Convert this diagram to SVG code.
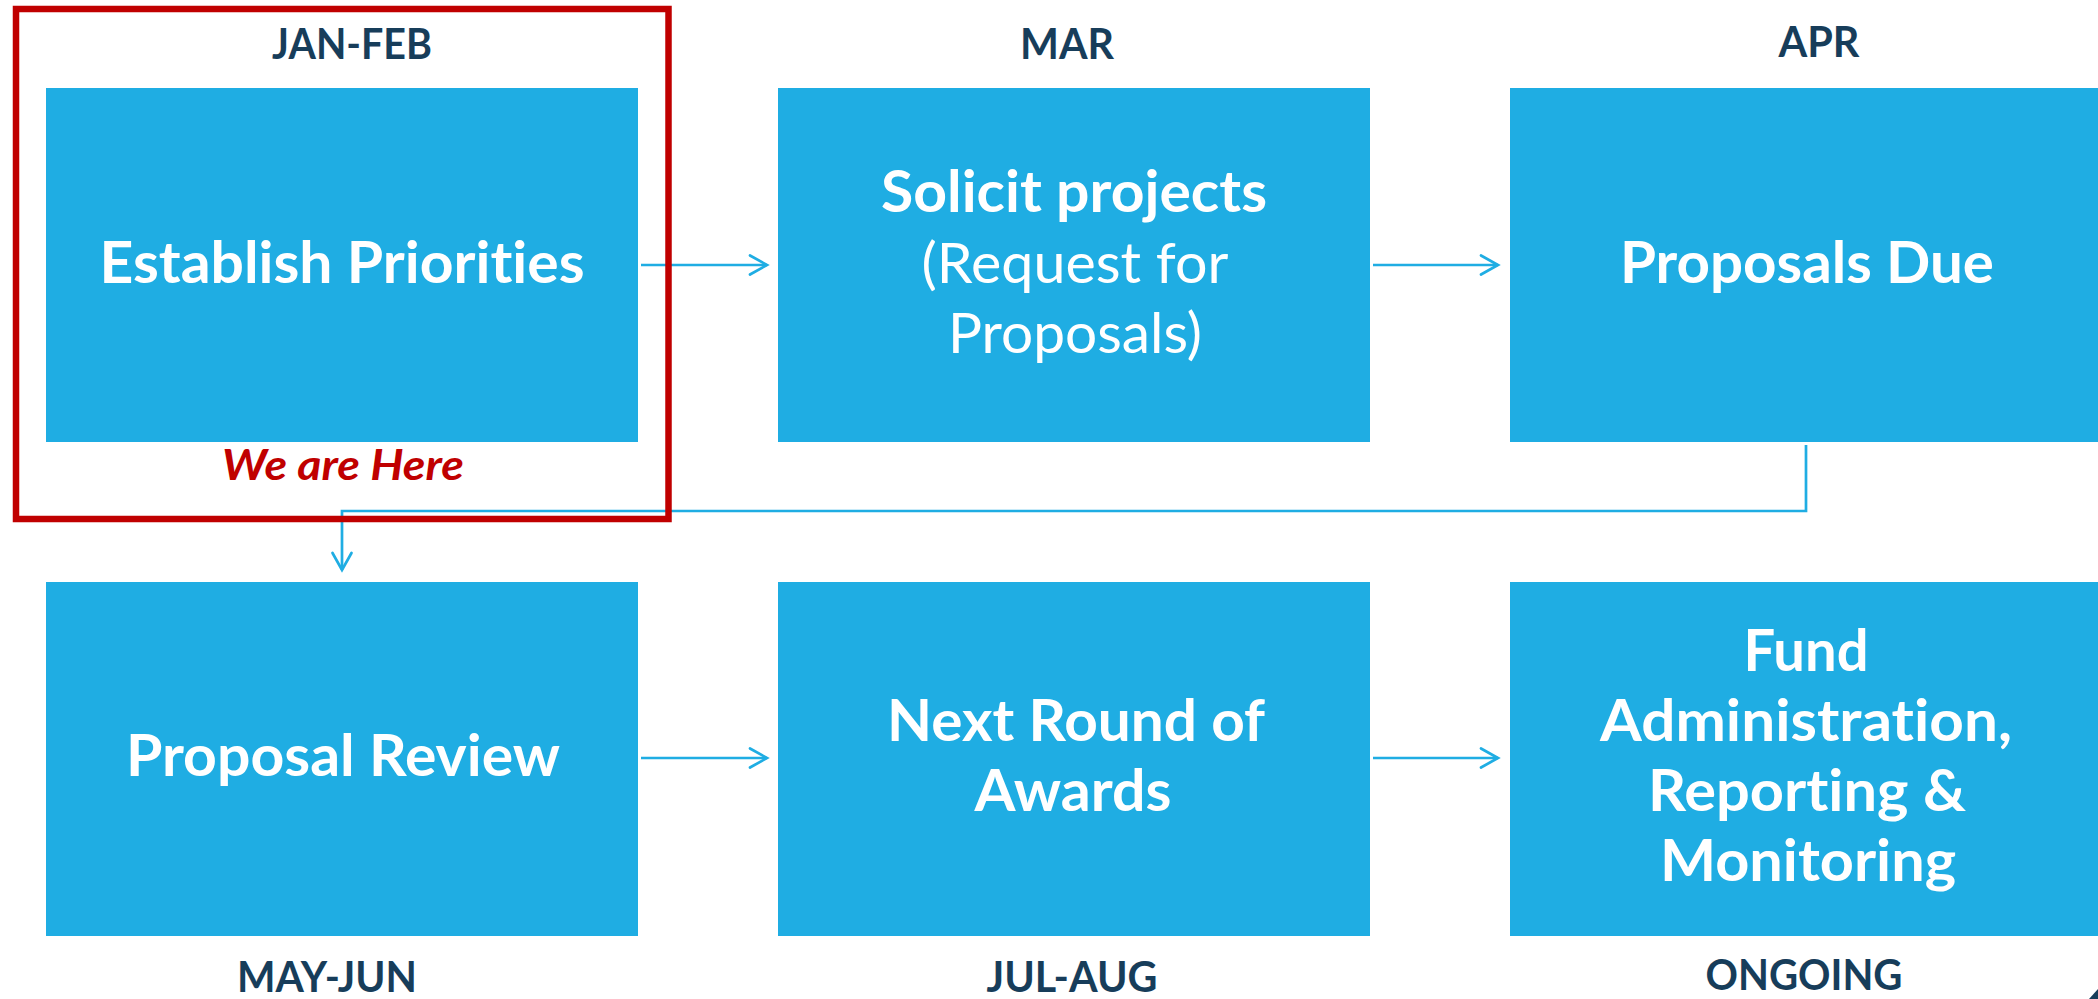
<svg xmlns="http://www.w3.org/2000/svg" width="2098" height="999" viewBox="0 0 2098 999">
<style>
  text { font-variant-ligatures: none; font-feature-settings: "liga" 0, "clig" 0; }
  .box { fill: #1FADE3; }
  .t { font-family: "Lato", "Open Sans", "Liberation Sans", sans-serif; fill: #FFFFFF; font-size: 57px; text-anchor: middle; }
  .b { font-weight: 700; }
  .r { font-weight: 400; }
  .m { font-family: "Lato", "Open Sans", "Liberation Sans", sans-serif; fill: #173D5A; font-size: 42px; font-weight: 700; text-anchor: middle; }
  .here { font-family: "Lato", "Open Sans", "Liberation Sans", sans-serif; fill: #C00000; font-size: 42px; font-weight: 700; font-style: italic; text-anchor: middle; }
  .conn { fill: none; stroke: #1FADE3; stroke-width: 2.7; }
  .frame { fill: none; stroke: #C00000; stroke-width: 6.5; }
</style>
<defs>
  <marker id="arrow" markerUnits="userSpaceOnUse" markerWidth="22" markerHeight="22" refX="18" refY="10" orient="auto" overflow="visible">
    <path d="M1,0.5 L18,10 L1,19.5" fill="none" stroke="#1FADE3" stroke-width="2.7" stroke-linecap="round" stroke-linejoin="miter"/>
  </marker>
</defs>
<rect width="2098" height="999" fill="#FFFFFF"/>

<g id="connectors">
  <path class="conn" d="M641,265 H767" marker-end="url(#arrow)"/>
  <path class="conn" d="M1373,265 H1498" marker-end="url(#arrow)"/>
  <path class="conn" d="M1806,445 V511 H342 V570" marker-end="url(#arrow)"/>
  <path class="conn" d="M641,758 H767" marker-end="url(#arrow)"/>
  <path class="conn" d="M1373,758 H1498" marker-end="url(#arrow)"/>
</g>

<g id="node-establish-priorities">
  <text class="m" x="352" y="59" textLength="160" lengthAdjust="spacingAndGlyphs">JAN-FEB</text>
  <rect class="box" x="46" y="88" width="592" height="354"/>
  <text class="t b" x="342" y="283" textLength="485" lengthAdjust="spacingAndGlyphs">Establish Priorities</text>
</g>

<g id="node-solicit-projects">
  <text class="m" x="1067" y="59" textLength="94" lengthAdjust="spacingAndGlyphs">MAR</text>
  <rect class="box" x="778" y="88" width="592" height="354"/>
  <text class="t b" x="1074" y="212" textLength="386" lengthAdjust="spacingAndGlyphs">Solicit projects</text>
  <text class="t r" x="1075" y="283" textLength="307" lengthAdjust="spacingAndGlyphs">(Request for</text>
  <text class="t r" x="1075" y="353" textLength="254" lengthAdjust="spacingAndGlyphs">Proposals)</text>
</g>

<g id="node-proposals-due">
  <text class="m" x="1819" y="57" textLength="81" lengthAdjust="spacingAndGlyphs">APR</text>
  <rect class="box" x="1510" y="88" width="592" height="354"/>
  <text class="t b" x="1807" y="283" textLength="374" lengthAdjust="spacingAndGlyphs">Proposals Due</text>
</g>

<g id="node-proposal-review">
  <rect class="box" x="46" y="582" width="592" height="354"/>
  <text class="t b" x="343" y="776" textLength="434" lengthAdjust="spacingAndGlyphs">Proposal Review</text>
  <text class="m" x="327" y="992" textLength="180" lengthAdjust="spacingAndGlyphs">MAY-JUN</text>
</g>

<g id="node-next-round">
  <rect class="box" x="778" y="582" width="592" height="354"/>
  <text class="t b" x="1076" y="741" textLength="378" lengthAdjust="spacingAndGlyphs">Next Round of</text>
  <text class="t b" x="1073" y="811" textLength="197" lengthAdjust="spacingAndGlyphs">Awards</text>
  <text class="m" x="1072" y="992" textLength="171" lengthAdjust="spacingAndGlyphs">JUL-AUG</text>
</g>

<g id="node-fund-administration">
  <rect class="box" x="1510" y="582" width="592" height="354"/>
  <text class="t b" x="1806" y="671" textLength="125" lengthAdjust="spacingAndGlyphs">Fund</text>
  <text class="t b" x="1806" y="741" textLength="412" lengthAdjust="spacingAndGlyphs">Administration,</text>
  <text class="t b" x="1807" y="811" textLength="318" lengthAdjust="spacingAndGlyphs">Reporting &amp;</text>
  <text class="t b" x="1808" y="881" textLength="296" lengthAdjust="spacingAndGlyphs">Monitoring</text>
  <text class="m" x="1804" y="990" textLength="197" lengthAdjust="spacingAndGlyphs">ONGOING</text>
</g>

<g id="current-stage-highlight">
  <rect class="frame" x="16" y="9" width="652.5" height="510"/>
  <text class="here" x="343" y="480" textLength="242" lengthAdjust="spacingAndGlyphs">We are Here</text>
</g>

<polygon points="2098,989 2089,999 2098,999" fill="#173D5A"/>
</svg>
